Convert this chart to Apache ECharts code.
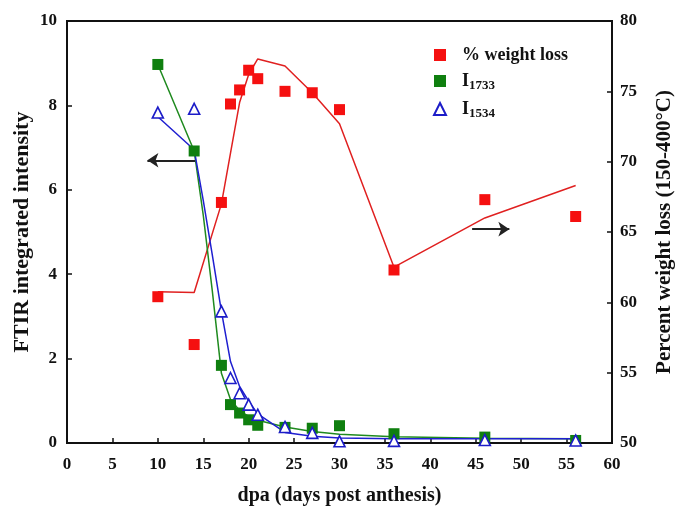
<!DOCTYPE html>
<html>
<head>
<meta charset="utf-8">
<script src="https://cdn.jsdelivr.net/npm/echarts@6/dist/echarts.min.js"></script>
<style>
  html, body { margin: 0; padding: 0; background: #fff; }
  #chart { width: 676px; height: 506px; }
</style>
</head>
<body>
<div id="chart"></div>
<script>
// Sampling days (days post anthesis)
const dpa = [10, 14, 17, 18, 19, 20, 21, 24, 27, 30, 36, 46, 56];
// Percent weight loss between 150 and 400 °C (right axis)
const weightLoss = [60.4, 57.0, 67.1, 74.1, 75.1, 76.5, 75.9, 75.0, 74.9, 73.7, 62.3, 67.3, 66.1];
// FTIR integrated band intensities (left axis)
const i1733 = [8.97, 6.92, 1.84, 0.91, 0.71, 0.55, 0.42, 0.37, 0.35, 0.41, 0.22, 0.14, 0.06];
const i1534 = [7.83, 7.92, 3.12, 1.54, 1.18, 0.91, 0.67, 0.38, 0.24, 0.04, 0.05, 0.07, 0.06];

// Fitted trend curves
const weightFitDpa = [10, 14, 17, 18, 19, 20, 21, 24, 27, 30, 36, 46, 56];
const weightFit = [60.75, 60.7, 67.0, 70.6, 74.2, 76.2, 77.3, 76.8, 74.9, 72.7, 62.5, 66.0, 68.3];
const intensityFitDpa = [10, 14, 15, 16, 17, 18, 19, 20, 21, 24, 27, 30, 36, 46, 56];
const i1733Fit = [8.97, 6.92, 5.4, 3.6, 1.65, 1.03, 0.77, 0.63, 0.54, 0.38, 0.27, 0.21, 0.15, 0.11, 0.1];
const i1534Fit = [7.73, 6.95, 5.75, 4.45, 3.12, 1.93, 1.34, 0.99, 0.69, 0.25, 0.16, 0.12, 0.1, 0.1, 0.1];

// Direction arrows pointing each curve family to its axis
const leftArrow = { from: [14.1, 6.7], to: [8.85, 6.7] };
const rightArrow = { from: [44.6, 65.2], to: [48.7, 65.2] };

const xTicks = { min: 0, max: 60, interval: 5 };
const leftTicks = { min: 0, max: 10, interval: 2 };
const rightTicks = { min: 50, max: 80, interval: 5 };

const zip = (xs, ys) => xs.map((x, i) => [x, ys[i]]);

const FONT = '"Liberation Serif", "Times New Roman", serif';
const RED = '#f51010';
const GREEN = '#0f7f0f';
const BLUE = '#1c1cc8';

const axisText = { fontFamily: FONT, fontWeight: 'bold', fontSize: 17, color: '#111' };
const nameText = (size) => ({ fontFamily: FONT, fontWeight: 'bold', fontSize: size, color: '#111' });
const axisLine = { show: true, lineStyle: { color: '#111', width: 2 } };
const axisTick = { show: true, inside: true, length: 5, lineStyle: { color: '#111', width: 1.5 } };

const chart = echarts.init(document.getElementById('chart'), null, { renderer: 'canvas' });

function arrowMark(a) {
  return {
    silent: true,
    animation: false,
    symbol: ['none', 'arrow'],
    symbolSize: 11,
    label: { show: false },
    itemStyle: { color: '#222' },
    lineStyle: { color: '#222', width: 2, type: 'solid' },
    emphasis: { disabled: true },
    data: [[{ coord: a.from }, { coord: a.to }]]
  };
}

chart.setOption({
  animation: false,
  backgroundColor: '#fff',
  grid: {
    left: 67, right: 64, top: 21, bottom: 63,
    outerBoundsMode: 'none',
    containLabel: false,
    show: true, borderColor: '#111', borderWidth: 2, backgroundColor: 'transparent'
  },
  legend: {
    data: ['% weight loss', 'I1733', 'I1534'],
    orient: 'vertical',
    left: 428, top: 41,
    itemWidth: 12, itemHeight: 12, itemGap: 8,
    selectedMode: false,
    formatter: function (name) {
      if (name === 'I1733') return '{m|I}{s|1733}';
      if (name === 'I1534') return '{m|I}{s|1534}';
      return '{m|' + name + '}';
    },
    textStyle: {
      fontFamily: FONT, fontWeight: 'bold', color: '#111', padding: [0, 0, 0, 11],
      rich: {
        m: { fontFamily: FONT, fontWeight: 'bold', fontSize: 18, lineHeight: 22, color: '#111' },
        s: { fontFamily: FONT, fontWeight: 'bold', fontSize: 13, lineHeight: 12, verticalAlign: 'bottom', color: '#111' }
      }
    }
  },
  xAxis: {
    type: 'value',
    min: xTicks.min, max: xTicks.max, interval: xTicks.interval,
    name: 'dpa (days post anthesis)',
    nameLocation: 'middle', nameGap: 43,
    nameMoveOverlap: false,
    nameTextStyle: nameText(20),
    axisLine: axisLine, axisTick: axisTick,
    axisLabel: Object.assign({ margin: 13 }, axisText),
    splitLine: { show: false }
  },
  yAxis: [
    {
      type: 'value', position: 'left',
      min: leftTicks.min, max: leftTicks.max, interval: leftTicks.interval,
      name: 'FTIR integrated intensity',
      nameLocation: 'middle', nameGap: 34,
      nameMoveOverlap: false,
      nameTextStyle: nameText(22),
      axisLine: axisLine, axisTick: axisTick,
      axisLabel: Object.assign({ margin: 10 }, axisText),
      splitLine: { show: false }
    },
    {
      type: 'value', position: 'right',
      min: rightTicks.min, max: rightTicks.max, interval: rightTicks.interval,
      name: 'Percent weight loss (150-400°C)',
      nameLocation: 'middle', nameGap: 42,
      nameTextStyle: nameText(21),
      axisLine: axisLine, axisTick: axisTick,
      axisLabel: Object.assign({ margin: 8 }, axisText),
      splitLine: { show: false }
    }
  ],
  series: [
    {
      name: 'weight fit', type: 'line', yAxisIndex: 1,
      data: zip(weightFitDpa, weightFit),
      showSymbol: false, symbol: 'none', silent: true,
      lineStyle: { color: '#e02020', width: 1.5 },
      markLine: arrowMark(rightArrow),
      z: 2
    },
    {
      name: 'I1733 fit', type: 'line', yAxisIndex: 0,
      data: zip(intensityFitDpa, i1733Fit),
      showSymbol: false, symbol: 'none', silent: true,
      lineStyle: { color: '#1f8a1f', width: 1.5 },
      markLine: arrowMark(leftArrow),
      z: 2
    },
    {
      name: 'I1534 fit', type: 'line', yAxisIndex: 0,
      data: zip(intensityFitDpa, i1534Fit),
      showSymbol: false, symbol: 'none', silent: true,
      lineStyle: { color: '#1f1fd0', width: 1.5 },
      z: 2
    },
    {
      name: '% weight loss', type: 'scatter', yAxisIndex: 1,
      data: zip(dpa, weightLoss),
      symbol: 'rect', symbolSize: 11,
      itemStyle: { color: RED, opacity: 1 },
      z: 3
    },
    {
      name: 'I1733', type: 'scatter', yAxisIndex: 0,
      data: zip(dpa, i1733),
      symbol: 'rect', symbolSize: 11,
      itemStyle: { color: GREEN, opacity: 1 },
      z: 3
    },
    {
      name: 'I1534', type: 'scatter', yAxisIndex: 0,
      data: zip(dpa, i1534),
      symbol: 'triangle', symbolSize: 11,
      itemStyle: { color: '#fff', borderColor: BLUE, borderWidth: 1.6, opacity: 1 },
      z: 4
    }
  ]
});
</script>
</body>
</html>
